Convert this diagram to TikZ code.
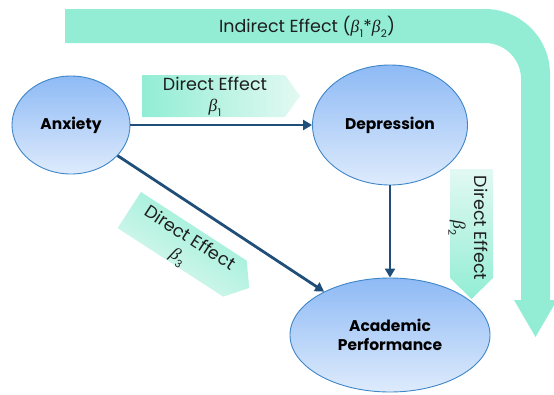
\documentclass[tikz,border=0pt]{standalone}
\usepackage{fontspec}
\setmainfont{Poppins}
\newfontfamily\grk{Liberation Serif}
\usetikzlibrary{shapes.geometric,arrows.meta}
\definecolor{mint}{RGB}{146,237,212}
\definecolor{mintlight}{RGB}{226,249,242}
\definecolor{ellTop}{RGB}{142,186,245}
\definecolor{ellBot}{RGB}{222,235,252}
\definecolor{ellLine}{RGB}{62,134,200}
\definecolor{arrowBlue}{RGB}{31,78,121}
\definecolor{txt}{RGB}{30,30,30}
\newcommand\bet[1]{{\grk\itshape β}\kern0.5pt\raisebox{-0.28em}{\fontsize{10.5}{10.5}\selectfont #1}}
\begin{document}
\begin{tikzpicture}[x=1pt,y=1pt,
  var/.style={ellipse,draw=ellLine,line width=0.9pt,top color=ellTop,bottom color=ellBot,
    inner sep=0pt,font=\bfseries\fontsize{15.5}{19}\selectfont,align=center,text=black},
  link/.style={draw=arrowBlue,line width=2.8pt,-{Triangle[length=9pt,width=10pt]}},
  lbl/.style={font=\fontsize{17.5}{21}\selectfont,text=txt,align=center,inner sep=0pt}]
\useasboundingbox (0,0) rectangle (554,-394);
% big indirect arrow
\fill[mint] (65,-9) -- (485,-9) arc[start angle=90,end angle=0,radius=65]
  -- (550,-300) -- (557,-300) -- (535.5,-337) -- (514,-300) -- (521,-300)
  -- (521,-79) arc[start angle=0,end angle=90,radius=36] -- (65,-43) -- cycle;
\node[lbl] (ind) at (307,-27) {Indirect Effect (\bet{1}*\bet{2})};
% direct effect beta1
\path[left color=mint,right color=mintlight] (142,-75) -- (285,-75) -- (300,-96) -- (285,-117) -- (142,-117) -- cycle;
\node[lbl] (d1) at (215,-97) {Direct Effect\\\bet{1}};
% direct effect beta2
\path[top color=mintlight,bottom color=mint] (450,-169) -- (493,-169) -- (493,-278) -- (471.5,-299) -- (450,-278) -- cycle;
\node[lbl,rotate=-90] (d2) at (468,-228) {Direct Effect\\\bet{2}};
% direct effect beta3
\begin{scope}[shift={(141,-192)},rotate=-33]
\path[top color=mint,bottom color=mintlight,shading angle=-33] (0,0) -- (126,0) -- (143,-21.5) -- (126,-43) -- (0,-43) -- cycle;
\node[lbl,transform shape] (d3) at (66,-24) {Direct Effect\\\bet{3}};
\end{scope}
% variables
\node[var,minimum width=118pt,minimum height=98pt] (anx) at (71,-125) {Anxiety};
\node[var,minimum width=155pt,minimum height=120pt] (dep) at (390,-125) {Depression};
\node[var,minimum width=200pt,minimum height=114pt] (acad) at (390,-335) {Academic\\Performance};
% connectors
\draw[link] (anx) -- (dep);
\draw[link] (anx) -- (acad);
\draw[link] (dep) -- (acad);
\end{tikzpicture}
\end{document}
